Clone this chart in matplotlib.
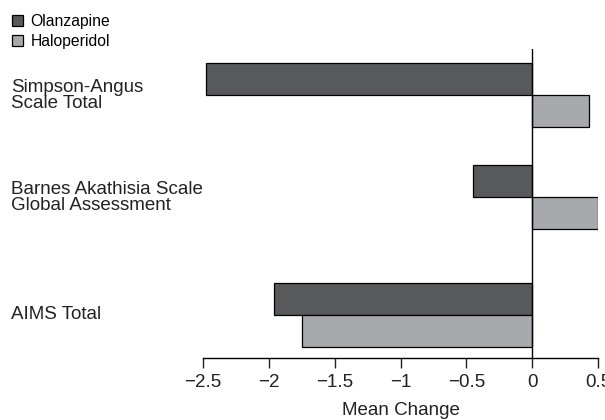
import matplotlib
matplotlib.use("Agg")
import matplotlib.pyplot as plt
from matplotlib.patches import Patch
import matplotlib.transforms as mtransforms

# data (mean change from baseline)
measures = ["Simpson-Angus\nScale Total",
            "Barnes Akathisia Scale\nGlobal Assessment",
            "AIMS Total"]
olanzapine = [-2.48, -0.45, -1.96]
haloperidol = [0.43, 0.50, -1.75]
xticks = [-2.5, -2, -1.5, -1, -0.5, 0, 0.5]
xticklabels = ["\u22122.5", "\u22122", "\u22121.5", "\u22121", "\u22120.5", "0", "0.5"]

# group centres (layout only, groups are not evenly spaced in the original)
centres = [0, 3.19, 6.875]
bh = 1.0

olz_color = "#58595b"
hal_color = "#a7a9ac"

plt.rcParams['font.family'] = ['Liberation Sans', 'DejaVu Sans']

fig = plt.figure(figsize=(6.05, 4.2), dpi=100)
ax = fig.add_axes([203/605, 1 - 358/420, 395/605, 309/420])

olz_y = [c - bh/2 for c in centres]
hal_y = [c + bh/2 for c in centres]
ax.barh(olz_y, olanzapine, height=bh, color=olz_color, edgecolor="black", linewidth=0.9)
ax.barh(hal_y, haloperidol, height=bh, color=hal_color, edgecolor="black", linewidth=0.9)

ax.axvline(0, color="black", linewidth=1.0)

ax.set_xlim(-2.5, 0.5)
ax.set_ylim(8.22, -1.44)
ax.set_xticks(xticks)
ax.set_xticklabels(xticklabels, fontsize=13.5)
ax.tick_params(axis="x", direction="out", length=7.5, width=1.0, pad=4, colors="#222222")
ax.set_yticks([])
for s in ["top", "right", "left"]:
    ax.spines[s].set_visible(False)
ax.spines["bottom"].set_linewidth(1.0)
ax.set_xlabel("Mean Change", fontsize=13.5, labelpad=8, color="#222222")

# category labels, left aligned at the figure edge
trans = mtransforms.blended_transform_factory(fig.transFigure, ax.transData)
for name, c in zip(measures, centres):
    ax.text(11/605, c, name, transform=trans, ha="left", va="center",
            fontsize=13.5, linespacing=0.92, color="#222222")

handles = [Patch(facecolor=olz_color, edgecolor="black", linewidth=0.9, label="Olanzapine"),
           Patch(facecolor=hal_color, edgecolor="black", linewidth=0.9, label="Haloperidol")]
fig.legend(handles=handles, loc="upper left", bbox_to_anchor=(-0.004, 1.0),
           frameon=False, fontsize=11.3, handlelength=0.7, handleheight=0.7,
           handletextpad=0.5, labelspacing=0.3, borderaxespad=0.5, borderpad=0.4)

fig.savefig("out.png", dpi=100)
